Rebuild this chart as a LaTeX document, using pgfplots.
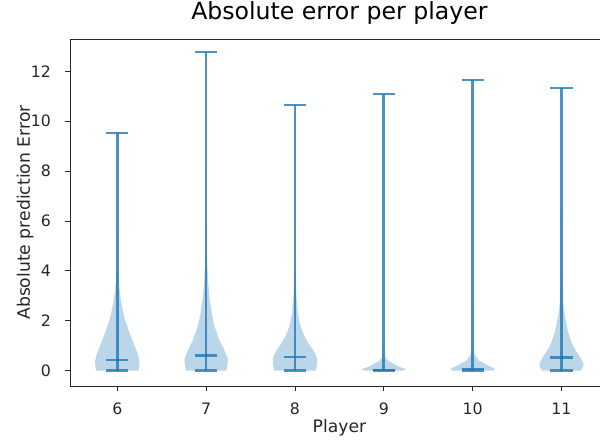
\documentclass[border=0pt]{standalone}
\usepackage{fontspec}
\setmainfont{DejaVu Sans}
\usepackage{pgfplots}
\pgfplotsset{compat=1.18}
\usepgfplotslibrary{fillbetween}
\usepackage{pgfplotstable}

\definecolor{c0}{HTML}{1F77B4}
\definecolor{tickgray}{HTML}{262626}

% violin half-width profiles: y, half-width (in x units)
\pgfplotstableread{
y w
0 0.24
0.13 0.247
0.4 0.25
0.67 0.23
0.94 0.2
1.21 0.17
1.48 0.14
1.74 0.116
2.0 0.09
2.28 0.07
2.55 0.056
2.82 0.04
3.09 0.03
3.6 0.015
4.4 0.006
5.5 0.002
9.53 0
}\vA
\pgfplotstableread{
y w
0 0.225
0.13 0.235
0.4 0.245
0.54 0.24
0.67 0.22
0.94 0.19
1.21 0.15
1.48 0.124
1.74 0.098
2.0 0.079
2.28 0.064
2.55 0.053
2.82 0.041
3.09 0.034
3.6 0.022
4.4 0.012
5.5 0.005
7 0.002
12.78 0
}\vB
\pgfplotstableread{
y w
0 0.235
0.27 0.25
0.54 0.245
0.8 0.21
1.07 0.155
1.34 0.113
1.61 0.079
1.88 0.056
2.15 0.041
2.4 0.03
2.8 0.02
3.5 0.01
4.5 0.004
10.65 0
}\vC
\pgfplotstableread{
y w
0 0.22
0.06 0.25
0.15 0.17
0.27 0.11
0.4 0.045
0.55 0.015
0.8 0.005
1.5 0.001
11.09 0
}\vD
\pgfplotstableread{
y w
0 0.23
0.07 0.25
0.17 0.19
0.27 0.14
0.4 0.07
0.54 0.04
0.67 0.017
0.9 0.006
1.5 0.002
11.65 0
}\vE
\pgfplotstableread{
y w
0 0.22
0.13 0.24
0.27 0.25
0.54 0.21
0.8 0.16
1.07 0.12
1.34 0.094
1.61 0.07
1.88 0.056
2.15 0.04
2.4 0.03
2.7 0.02
3.2 0.01
4.2 0.004
11.33 0
}\vF

\tikzset{vline/.style={draw=c0, draw opacity=0.8, line width=2.0pt, mark=none}}

\begin{document}
\begin{tikzpicture}
\begin{axis}[
  at={(0,0)}, anchor=south west,
  scale only axis, width=403.1pt, height=260.25pt,
  xmin=5.475, xmax=11.525, ymin=-0.62, ymax=13.3,
  xtick={6,7,8,9,10,11}, ytick={0,2,4,6,8,10,12},
  xtick pos=left, ytick pos=left,
  tick align=outside, major tick length=4.1pt,
  axis line style={black!85, line width=0.7pt},
  tick style={black!85, line width=0.7pt},
  /pgf/number format/assume math mode=true,
  ticklabel style={font=\fontsize{11.8}{14}\selectfont, text=tickgray},
  xticklabel style={anchor=north, inner sep=0pt, yshift=-8.25pt},
  yticklabel style={anchor=east, inner sep=0pt, xshift=-10.5pt},
  title={Absolute error per player},
  title style={font=\fontsize{17.7}{20}\selectfont, at={(axis description cs:0.5,1.0317)}, anchor=base, inner sep=0pt, text=black},
  xlabel={Player},
  xlabel style={font=\fontsize{12.9}{15}\selectfont, at={(axis description cs:0.5,-0.1354)}, anchor=base, inner sep=0pt, text=tickgray},
  ylabel={Absolute prediction Error},
  ylabel style={font=\fontsize{12.9}{15}\selectfont, at={(axis description cs:-0.0757,0.5)}, rotate=0, anchor=base, inner sep=0pt, text=tickgray},
  clip=false,
]
% violin bodies
\addplot[draw=none, name path=L6, forget plot] table[x expr=6-\thisrow{w}, y=y] {\vA};
\addplot[draw=none, name path=R6, forget plot] table[x expr=6+\thisrow{w}, y=y] {\vA};
\addplot[fill=c0, fill opacity=0.3, draw=none] fill between[of=L6 and R6, reverse=true];
\addplot[draw=none, name path=L7, forget plot] table[x expr=7-\thisrow{w}, y=y] {\vB};
\addplot[draw=none, name path=R7, forget plot] table[x expr=7+\thisrow{w}, y=y] {\vB};
\addplot[fill=c0, fill opacity=0.3, draw=none] fill between[of=L7 and R7, reverse=true];
\addplot[draw=none, name path=L8, forget plot] table[x expr=8-\thisrow{w}, y=y] {\vC};
\addplot[draw=none, name path=R8, forget plot] table[x expr=8+\thisrow{w}, y=y] {\vC};
\addplot[fill=c0, fill opacity=0.3, draw=none] fill between[of=L8 and R8, reverse=true];
\addplot[draw=none, name path=L9, forget plot] table[x expr=9-\thisrow{w}, y=y] {\vD};
\addplot[draw=none, name path=R9, forget plot] table[x expr=9+\thisrow{w}, y=y] {\vD};
\addplot[fill=c0, fill opacity=0.3, draw=none] fill between[of=L9 and R9, reverse=true];
\addplot[draw=none, name path=L10, forget plot] table[x expr=10-\thisrow{w}, y=y] {\vE};
\addplot[draw=none, name path=R10, forget plot] table[x expr=10+\thisrow{w}, y=y] {\vE};
\addplot[fill=c0, fill opacity=0.3, draw=none] fill between[of=L10 and R10, reverse=true];
\addplot[draw=none, name path=L11, forget plot] table[x expr=11-\thisrow{w}, y=y] {\vF};
\addplot[draw=none, name path=R11, forget plot] table[x expr=11+\thisrow{w}, y=y] {\vF};
\addplot[fill=c0, fill opacity=0.3, draw=none] fill between[of=L11 and R11, reverse=true];
% player 6
\addplot[vline] coordinates {(6,0) (6,9.53)};
\addplot[vline] coordinates {(5.875,0) (6.125,0)};
\addplot[vline] coordinates {(5.875,0.42) (6.125,0.42)};
\addplot[vline] coordinates {(5.875,9.53) (6.125,9.53)};
% player 7
\addplot[vline] coordinates {(7,0) (7,12.78)};
\addplot[vline] coordinates {(6.875,0) (7.125,0)};
\addplot[vline] coordinates {(6.875,0.59) (7.125,0.59)};
\addplot[vline] coordinates {(6.875,12.78) (7.125,12.78)};
% player 8
\addplot[vline] coordinates {(8,0) (8,10.65)};
\addplot[vline] coordinates {(7.875,0) (8.125,0)};
\addplot[vline] coordinates {(7.875,0.54) (8.125,0.54)};
\addplot[vline] coordinates {(7.875,10.65) (8.125,10.65)};
% player 9
\addplot[vline] coordinates {(9,0) (9,11.09)};
\addplot[vline] coordinates {(8.875,0) (9.125,0)};
\addplot[vline] coordinates {(8.875,0.02) (9.125,0.02)};
\addplot[vline] coordinates {(8.875,11.09) (9.125,11.09)};
% player 10
\addplot[vline] coordinates {(10,0) (10,11.65)};
\addplot[vline] coordinates {(9.875,0) (10.125,0)};
\addplot[vline] coordinates {(9.875,0.06) (10.125,0.06)};
\addplot[vline] coordinates {(9.875,11.65) (10.125,11.65)};
% player 11
\addplot[vline] coordinates {(11,0) (11,11.33)};
\addplot[vline] coordinates {(10.875,0) (11.125,0)};
\addplot[vline] coordinates {(10.875,0.53) (11.125,0.53)};
\addplot[vline] coordinates {(10.875,11.33) (11.125,11.33)};
\end{axis}
\pgfresetboundingbox
\useasboundingbox (-53.0pt,-41.25pt) rectangle (397.0pt,289.5pt);
\end{tikzpicture}
\end{document}
